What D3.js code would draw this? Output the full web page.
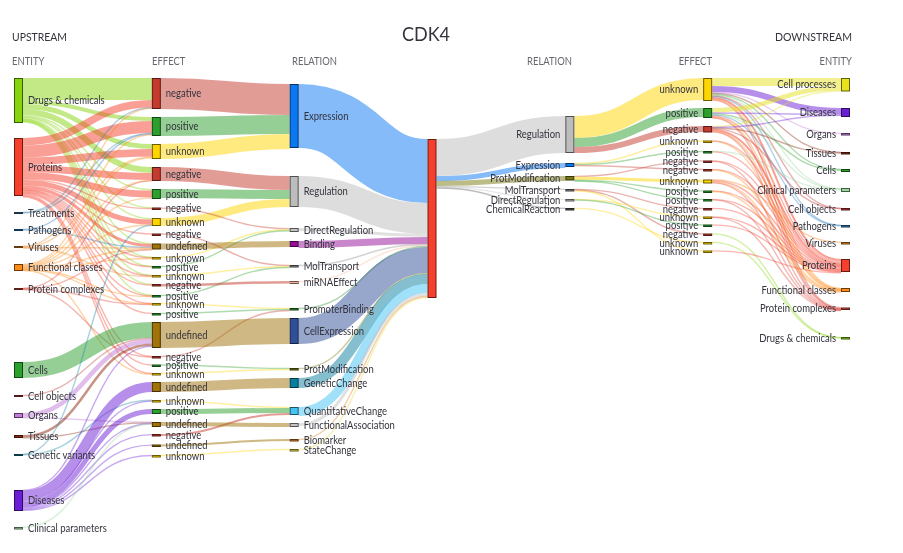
<!DOCTYPE html>
<html><head><meta charset="utf-8">
<script src="https://cdn.jsdelivr.net/npm/d3@7/dist/d3.min.js"></script>
<style>
html,body{margin:0;padding:0;background:#fff}
svg{display:block;filter:blur(0.35px)}
text{font-family:Lato,"Open Sans",sans-serif;fill:#33333d}
</style></head><body>
<svg id="c" width="903" height="553"></svg>
<script>
// ---------- data ----------
const title = "CDK4";
const sideHeads = ["UPSTREAM", "DOWNSTREAM"];
const columnHeads = ["ENTITY", "EFFECT", "RELATION", "RELATION", "EFFECT", "ENTITY"];

const upEntities = ["Drugs & chemicals","Proteins","Treatments","Pathogens","Viruses","Functional classes","Protein complexes","Cells","Cell objects","Organs","Tissues","Genetic variants","Diseases","Clinical parameters"];
const upEntityValues = [45,58,2,2,2,7,2,16,2,5,3,2,21,2.5];

const upEffects = ["negative","positive","unknown","negative","positive","negative","unknown","negative","undefined","unknown","positive","unknown","negative","positive","unknown","positive","undefined","negative","positive","unknown","undefined","unknown","positive","undefined","negative","undefined","unknown"];
const upEffectValues = [31,19,15,14,10,2.5,8,2.5,6,2.5,2.5,2.5,2.5,2.5,2.5,2.5,26,2.5,2.5,2.5,10,2.5,5,5,2.5,2.5,2.5];

const upRelations = ["Expression","Regulation","DirectRegulation","Binding","MolTransport","miRNAEffect","PromoterBinding","CellExpression","ProtModification","GeneticChange","QuantitativeChange","FunctionalAssociation","Biomarker","StateChange"];
const upRelationValues = [64,31,4,6,2.5,3,2.5,26,2.5,10,8,4,2.5,2.5];

const hubValue = [159];

const downRelations = ["Regulation","Expression","ProtModification","MolTransport","DirectRegulation","ChemicalReaction"];
const downRelationValues = [37,4,4.5,2.5,2.5,2.5];

const downEffects = ["unknown","positive","negative","unknown","positive","negative","negative","unknown","positive","positive","negative","unknown","positive","negative","unknown","unknown"];
const downEffectValues = [23,10,6.5,2.5,2.5,2.5,2.5,4,2.5,2.5,2.5,2.5,2.5,2.5,2.5,2.5];

const downEntities = ["Cell processes","Diseases","Organs","Tissues","Cells","Clinical parameters","Cell objects","Pathogens","Viruses","Proteins","Functional classes","Protein complexes","Drugs & chemicals"];
const downEntityValues = [13.5,9,2.5,2.5,3,4,2.5,2.5,2.5,13,4,2.5,2.5];

// flows: [from index, to index, value]
const entityToEffect = [
 [0,0,22],[0,1,4],[0,2,5],[0,3,6],[0,4,1.5],[0,5,.6],[0,6,1.5],[0,8,.6],[0,9,.6],[0,10,.6],[0,11,.6],[0,12,.6],[0,13,.6],
 [1,0,7.5],[1,1,12],[1,2,7.5],[1,3,7],[1,4,7],[1,5,1],[1,6,5],[1,7,1],[1,8,3],[1,9,.6],[1,10,.6],[1,11,.8],[1,12,1],[1,13,.7],[1,14,.8],[1,15,.7],[1,17,1],[1,18,1],[1,19,1],
 [2,0,.6],[2,1,.7],[3,1,.6],[3,8,.7],
 [4,0,.4],[4,2,.7],[4,8,.7],[4,11,.5],
 [5,1,.8],[5,2,1],[5,3,.7],[5,4,.8],[5,6,.5],[5,8,1],[5,9,.5],[5,13,.5],[5,14,.5],[5,19,.5],
 [6,3,.4],[6,8,.5],[6,14,.4],[6,17,.4],
 [7,16,16],[8,16,1],[9,16,4.5],[9,23,.5],[10,16,2.5],[10,23,.7],
 [11,6,.6],[11,21,.6],
 [12,16,.8],[12,20,10],[12,21,1],[12,22,5],[12,23,.6],[12,24,1.2],[12,25,1.2],[12,26,1],
 [13,23,.5]
];
const effectToRelation = [
 [0,0,31],[1,0,19],[2,0,15],[3,1,14],[4,1,9],[6,1,8],[5,2,1.2],[9,2,1],[10,2,1],[8,3,6],[7,4,1],[11,4,1],[13,4,1],[12,5,2.5],
 [14,6,1],[15,6,1],[17,6,1],[16,7,26],[18,8,1],[19,8,1],[20,9,10],[21,10,1],[22,10,5],[24,10,2],[23,11,4],[25,12,2],[26,13,1]
];
const relationToHub = [[0,0,64],[1,0,31],[2,0,3],[3,0,7],[4,0,1],[5,0,1],[6,0,1],[7,0,26],[8,0,1],[9,0,10],[10,0,9],[11,0,3],[12,0,1],[13,0,1]];
const hubToRelation = [[0,0,37],[0,1,5],[0,2,5],[0,3,.8],[0,4,.8],[0,5,.8]];
const relationToEffect = [
 [0,0,22],[0,1,9],[0,2,6],
 [1,3,1],[1,4,1],[1,6,1],
 [2,5,.8],[2,7,3],[2,8,.8],[2,9,.8],
 [3,10,.7],[3,13,.7],[3,15,.7],
 [4,11,.7],[4,12,.7],[5,14,.7]
];
const effectToEntity = [
 [0,0,8],[0,1,6],[0,2,1],[0,3,.7],[0,4,1],[0,5,1],[0,6,.6],[0,7,.6],[0,9,2],[0,10,.8],[0,11,.6],
 [1,0,4.5],[1,1,1],[1,4,.8],[1,5,.6],[1,7,.5],[1,9,1.5],[1,10,.6],[1,11,.5],
 [2,0,1],[2,1,.8],[2,3,.5],[2,6,.6],[2,9,2],[2,10,.6],[2,11,.6],
 [3,9,.7],[3,10,.4],[4,5,.5],[4,9,.7],[5,9,.7],[5,11,.4],[6,9,.7],[6,10,.5],
 [7,8,.6],[7,9,1.6],[7,10,1],[7,11,.4],
 [8,9,.7],[8,10,.5],[9,9,.7],[9,11,.4],[10,9,.7],[11,9,.7],[11,11,.4],[12,9,.7],
 [13,12,.7],[14,12,.7],[15,9,.7]
];

// ---------- styles and layout ----------
const entityColor = {"Drugs & chemicals":"#86d40e","Proteins":"#f4402c","Treatments":"#3f7fa8","Pathogens":"#2f7fc0","Viruses":"#f08a24","Functional classes":"#ff8c14","Protein complexes":"#e0483c","Cells":"#2ca02c","Cell objects":"#c0393b","Organs":"#c27bd8","Tissues":"#8b2a10","Genetic variants":"#1a86a8","Diseases":"#6b1fd4","Clinical parameters":"#9ad8a0","Cell processes":"#e6e21e"};
const effectColor = {negative:"#c63a2e",positive:"#2ca02c",unknown:"#ffd500",undefined:"#a07208"};
const relationColor = {Expression:"#0a78f2",Regulation:"#bcbcbc",DirectRegulation:"#c4c4c4",Binding:"#960e96",MolTransport:"#8c8c8c",miRNAEffect:"#f8b8a0",PromoterBinding:"#2f8f2f",CellExpression:"#2f5098",ProtModification:"#7a7a10",GeneticChange:"#0a7ea0",QuantitativeChange:"#42c4f4",FunctionalAssociation:"#c4c4c4",Biomarker:"#e07a20",StateChange:"#e8d840",ChemicalReaction:"#555"};
const hubColor = "#f4402c";

// gap above each box, per column, the way a Sankey uses node padding
const gaps = [
 [0,15,16,15,15,16,17,72,17,16,17,16,34,16],
 [0,8,8,8,8,8.5,8,7.5,7.5,7.5,6.5,6.5,6.5,8.5,5.5,7.5,6.5,8,6,6,6.5,8,6.5,8,7,8,8],
 [6,28,21,9,18,13.5,24,7.5,24,7.5,19,8,12,7.5],
 [61],
 [38,10,9,8.5,7.5,6.5],
 [0,7,8,8,8,7,6,8,7,6,6.5,6,5.5,6.5,6,6],
 [0,16.5,16,16.5,14.5,16,16,14.5,14.5,14.5,16,15.5,27]
];
const top0 = 78, boxW = 9, dimText = "#66666e", textSqueeze = .9;

const columnX = d3.scalePoint().domain(d3.range(7)).range([14,841]);
const thickness = d3.scaleLinear().domain([0,159]).range([0,159]);

const svg = d3.select("#c");

const columns = [
 {names:upEntities, values:upEntityValues, color:d=>entityColor[d], side:1},
 {names:upEffects, values:upEffectValues, color:d=>effectColor[d], side:1},
 {names:upRelations, values:upRelationValues, color:d=>relationColor[d], side:1},
 {names:[""], values:hubValue, color:()=>hubColor, side:0},
 {names:downRelations, values:downRelationValues, color:d=>relationColor[d], side:-1},
 {names:downEffects, values:downEffectValues, color:d=>effectColor[d], side:-1},
 {names:downEntities, values:downEntityValues, color:d=>entityColor[d], side:-1}
];

columns.forEach((col,ci)=>{
  let y = top0;
  col.nodes = col.names.map((name,i)=>{
    y += gaps[ci][i];
    const n = {name, y0:y, y1:y+thickness(col.values[i]), x0:columnX(ci), x1:columnX(ci)+boxW, color:col.color(name), side:col.side, out:[], in:[]};
    y = n.y1;
    return n;
  });
});

const layers = [
 {flows:entityToEffect, from:0, to:1, by:"source"},
 {flows:effectToRelation, from:1, to:2, by:"source"},
 {flows:relationToHub, from:2, to:3, by:"source"},
 {flows:hubToRelation, from:3, to:4, by:"target"},
 {flows:relationToEffect, from:4, to:5, by:"target"},
 {flows:effectToEntity, from:5, to:6, by:"target"}
];
const allLinks = [];
layers.forEach(L=>{
  L.flows.forEach(([a,b,v])=>{
    const s = columns[L.from].nodes[a], t = columns[L.to].nodes[b];
    const k = {s,t,v,w:thickness(v),color:(L.by==="source"?s:t).color};
    s.out.push(k); t.in.push(k); allLinks.push(k);
  });
});
columns.forEach(col=>col.nodes.forEach(n=>{
  let y=n.y0;
  n.out.sort((a,b)=>a.t.y0-b.t.y0).forEach(k=>{k.sy=y+k.w/2;y+=k.w;});
  y=n.y0;
  n.in.sort((a,b)=>a.s.y0-b.s.y0).forEach(k=>{k.ty=y+k.w/2;y+=k.w;});
}));

const linkPath = d3.linkHorizontal().x(d=>d[0]).y(d=>d[1]);
svg.append("g").attr("fill","none").selectAll("path").data(allLinks).join("path")
  .attr("d",k=>linkPath({source:[k.s.x1,k.sy],target:[k.t.x0,k.ty]}))
  .attr("stroke",k=>k.color)
  .attr("stroke-opacity",k=>k.w<2?.38:.5)
  .attr("stroke-width",k=>Math.max(k.w,1.4));

const allNodes = columns.flatMap(c=>c.nodes);
svg.append("g").selectAll("rect").data(allNodes).join("rect")
  .attr("x",n=>n.x0+.5).attr("y",n=>n.y0+.5)
  .attr("width",boxW-1).attr("height",n=>Math.max(n.y1-n.y0-1,1))
  .attr("fill",n=>n.color)
  .attr("stroke",n=>d3.color(n.color).darker(2.4))
  .attr("stroke-width",1);

function squeeze(sel){
  sel.attr("lengthAdjust","spacingAndGlyphs")
     .attr("textLength",function(){return this.getComputedTextLength()*textSqueeze;});
}
svg.append("g").selectAll("text").data(allNodes.filter(n=>n.name)).join("text")
  .attr("x",n=>n.side>0?n.x1+5:n.x0-5)
  .attr("y",n=>(n.y0+n.y1)/2)
  .attr("dy","0.35em")
  .attr("text-anchor",n=>n.side>0?"start":"end")
  .attr("font-size",10.5)
  .text(n=>n.name)
  .call(squeeze);

// headings
svg.append("text").attr("x",426).attr("y",41).attr("text-anchor","middle").attr("font-size",20).text(title).call(squeeze);
svg.append("text").attr("x",12).attr("y",41).attr("font-size",11).text(sideHeads[0]).attr("textLength",55).attr("lengthAdjust","spacingAndGlyphs");
svg.append("text").attr("x",852).attr("y",41).attr("text-anchor","end").attr("font-size",11).text(sideHeads[1]).attr("textLength",77).attr("lengthAdjust","spacingAndGlyphs");
const headX = [[12,"start"],[152,"start"],[292,"start"],[572,"end"],[712,"end"],[852,"end"]];
svg.append("g").selectAll("text").data(columnHeads).join("text")
  .attr("x",(d,i)=>headX[i][0]).attr("y",65)
  .attr("text-anchor",(d,i)=>headX[i][1])
  .attr("font-size",10.5).style("fill",dimText).text(d=>d).call(squeeze);
</script>
</body></html>
